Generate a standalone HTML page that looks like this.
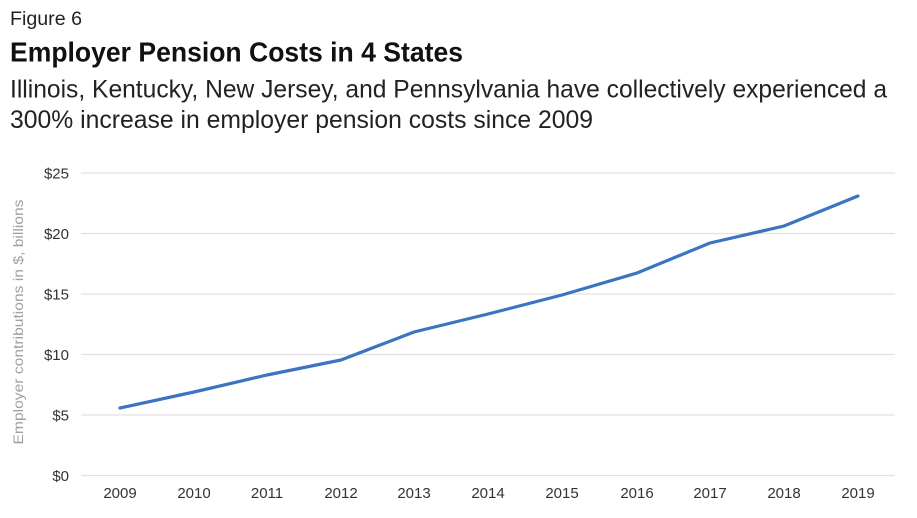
<!DOCTYPE html>
<html>
<head>
<meta charset="utf-8">
<style>
html,body{margin:0;padding:0;background:#fff;}
svg{display:block;}
text{font-family:"Liberation Sans",sans-serif;}
</style>
</head>
<body>
<svg width="917" height="518" viewBox="0 0 917 518" xmlns="http://www.w3.org/2000/svg">
<rect width="917" height="518" fill="#fff"/>
<text x="10" y="25" font-size="19" fill="#222" textLength="72" lengthAdjust="spacingAndGlyphs">Figure 6</text>
<text x="10" y="61.5" font-size="28" font-weight="bold" fill="#111" textLength="453" lengthAdjust="spacingAndGlyphs">Employer Pension Costs in 4 States</text>
<text x="10" y="97.5" font-size="25" fill="#222" textLength="877" lengthAdjust="spacingAndGlyphs">Illinois, Kentucky, New Jersey, and Pennsylvania have collectively experienced a</text>
<text x="10" y="128" font-size="25" fill="#222" textLength="583" lengthAdjust="spacingAndGlyphs">300% increase in employer pension costs since 2009</text>

<g stroke="#e2e2e2" stroke-width="1.3">
<line x1="81" y1="173" x2="895" y2="173"/>
<line x1="81" y1="233.5" x2="895" y2="233.5"/>
<line x1="81" y1="294" x2="895" y2="294"/>
<line x1="81" y1="354.5" x2="895" y2="354.5"/>
<line x1="81" y1="415" x2="895" y2="415"/>
<line x1="81" y1="475.5" x2="895" y2="475.5"/>
</g>

<g font-size="15" fill="#333" text-anchor="end">
<text x="69" y="178.5">$25</text>
<text x="69" y="239">$20</text>
<text x="69" y="299.5">$15</text>
<text x="69" y="360">$10</text>
<text x="69" y="420.5">$5</text>
<text x="69" y="481">$0</text>
</g>

<text transform="translate(23,322) rotate(-90)" font-size="14" fill="#a0a0a0" text-anchor="middle" textLength="245" lengthAdjust="spacingAndGlyphs">Employer contributions in $, billions</text>

<g font-size="15" fill="#333" text-anchor="middle">
<text x="120" y="498">2009</text>
<text x="194" y="498">2010</text>
<text x="267" y="498">2011</text>
<text x="341" y="498">2012</text>
<text x="414" y="498">2013</text>
<text x="488" y="498">2014</text>
<text x="562" y="498">2015</text>
<text x="637" y="498">2016</text>
<text x="710" y="498">2017</text>
<text x="784" y="498">2018</text>
<text x="858" y="498">2019</text>
</g>

<polyline fill="none" stroke="#3b74c1" stroke-width="3.2" stroke-linejoin="round" stroke-linecap="round"
points="120,408 194,392 267,375 341,360 414,332 488,314 562,295 637,273 710,243 784,226 858,196"/>
</svg>
</body>
</html>
